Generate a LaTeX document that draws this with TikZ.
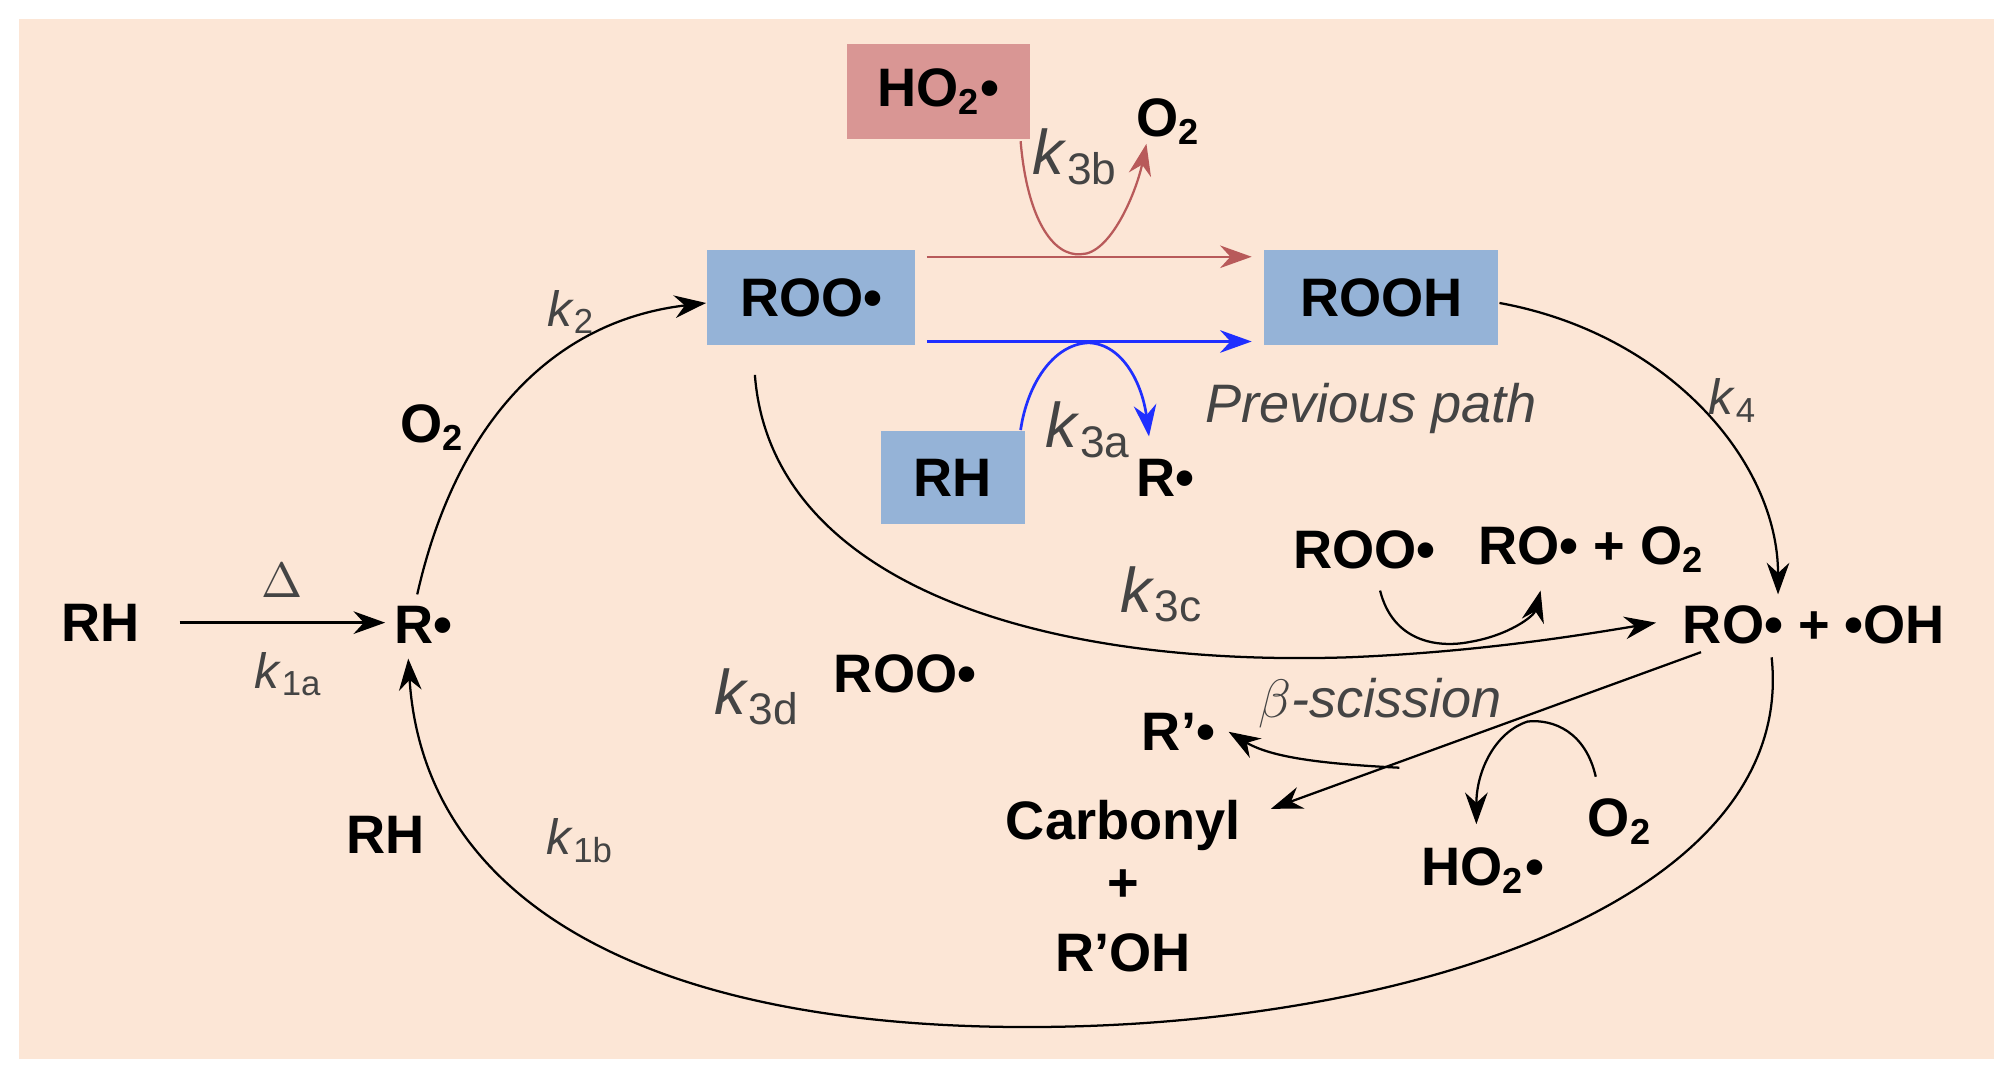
\documentclass[tikz,border=0pt]{standalone}
\usepackage{fontspec}
\setmainfont{Liberation Sans}
\usetikzlibrary{arrows.meta}
\definecolor{bg}{HTML}{FCE6D6}
\definecolor{bluebox}{HTML}{95B3D7}
\definecolor{pinkbox}{HTML}{D99694}
\definecolor{redarr}{HTML}{B85A5A}
\definecolor{bluearr}{HTML}{1F2FFF}
\definecolor{graytxt}{HTML}{444444}
\newcommand{\kk}[1]{\textit{k}\textsubscript{#1}}
\begin{document}
\begin{tikzpicture}[x=0.01cm,y=-0.01cm,
  t/.style={font=\bfseries\fontsize{12}{14}\selectfont,inner sep=1pt},
  k/.style={font=\fontsize{14}{16}\selectfont,text=graytxt,inner sep=1pt},
  ks/.style={font=\fontsize{11}{13}\selectfont,text=graytxt,inner sep=1pt},
  box/.style={t,minimum height=0.74cm},
  arr/.style={-{Stealth[length=7pt,width=5pt]},line width=0.5pt},
  darr/.style={-{Stealth[length=7pt,width=5pt]},line width=0.6pt}]
\useasboundingbox (0,0) rectangle (1568,842);
\fill[bg] (15,15) rectangle (1553,825);
% boxes
\node[box,fill=pinkbox,minimum width=1.43cm] (ho2b) at (731,71) {HO$_\mathbf{2}$•};
\node[box,fill=bluebox,minimum width=1.62cm] (roo) at (632,232) {ROO•};
\node[box,fill=bluebox,minimum width=1.82cm] (rooh) at (1076,232) {ROOH};
\node[box,fill=bluebox,minimum width=1.12cm,minimum height=0.72cm] (rhb) at (742,372) {RH};
% texts
\node[t] (o2a) at (910,95) {O$_\mathbf{2}$};
\node[t] (ra) at (908,372) {R•};
\node[k] (k3b) at (838,122) {\kk{3b}};
\node[k] (k3a) at (848,335) {\kk{3a}};
\node[k,font=\fontsize{12}{14}\selectfont\itshape] (pp) at (1068,318) {Previous path};
\node[t] (rh1) at (78,485) {RH};
\node[t] (r) at (330,487) {R•};
\node[font=\fontsize{11}{13}\selectfont,text=graytxt] (delta) at (220,452) {$\Delta$};
\node[ks] (k1a) at (225,525) {\kk{1a}};
\node[t] (o2b) at (337,333) {O$_\mathbf{2}$};
\node[ks] (k2) at (445,243) {\kk{2}};
\node[ks] (k4) at (1350,312) {\kk{4}};
\node[t] (ro) at (1413,487) {RO• + •OH};
\node[k] (k3c) at (905,463) {\kk{3c}};
\node[t] (roo2) at (1063,428) {ROO•};
\node[t] (roo2p) at (1240,428) {RO• + O$_\mathbf{2}$};
\node[k] (k3d) at (590,543) {\kk{3d}};
\node[t] (roo3) at (705,525) {ROO•};
\node[k,font=\fontsize{12}{14}\selectfont\itshape] (beta) at (1075,548) {$\beta$-scission};
\node[t] (rp) at (918,570) {R’•};
\node[t] (carb) at (875,643) {Carbonyl};
\node[t] (plus) at (875,690) {+};
\node[t] (roh) at (875,742) {R’OH};
\node[t] (o2c) at (1262,640) {O$_\mathbf{2}$};
\node[t] (ho2c) at (1155,678) {HO$_\mathbf{2}$•};
\node[t] (rh2) at (300,650) {RH};
\node[ks] (k1b) at (452,655) {\kk{1b}};
% coordinates
\coordinate (a1) at (722,200); \coordinate (a2) at (975,200);
\coordinate (b1) at (722,266); \coordinate (b2) at (975,266);
\coordinate (rc1) at (795,110); \coordinate (rc2) at (893,112);
\coordinate (bc1) at (795,335); \coordinate (bc2) at (895,340);
\coordinate (c1) at (588,292); \coordinate (c2) at (1290,485);
\coordinate (s1) at (1075,460); \coordinate (s2) at (1200,460);
\coordinate (l1) at (1325,508); \coordinate (l2) at (990,630);
\coordinate (m1) at (1090,598); \coordinate (m2) at (957,570);
\coordinate (n1) at (1243,605); \coordinate (n2) at (1150,642);
\coordinate (g1) at (1380,512); \coordinate (g2) at (318,513);
% arrows
\draw[arr,redarr] (a1) -- (a2);
\draw[darr,bluearr] (b1) -- (b2);
\draw[arr,redarr] (rc1) .. controls (800,170) and (820,200) .. (842,198) .. controls (865,198) and (885,150) .. (rc2);
\draw[darr,bluearr] (bc1) .. controls (800,300) and (820,268) .. (848,267) .. controls (875,268) and (890,300) .. (bc2);
\draw[darr] (140,485) -- (300,485);
\draw[arr] (325,463) .. controls (355,330) and (430,250) .. (550,236);
\draw[arr] (1168,236) .. controls (1300,260) and (1385,360) .. (1385,463);
\draw[arr] (c1) .. controls (600,450) and (800,520) .. (1050,512) .. controls (1150,508) and (1230,495) .. (c2);
\draw[arr] (s1) .. controls (1085,500) and (1120,505) .. (1145,500) .. controls (1175,495) and (1195,480) .. (s2);
\draw[arr] (l1) -- (l2);
\draw[arr] (m1) .. controls (1030,595) and (990,590) .. (m2);
\draw[arr] (n1) .. controls (1235,570) and (1210,560) .. (1190,562) .. controls (1165,570) and (1150,600) .. (n2);
\draw[arr] (g1) .. controls (1400,700) and (1100,800) .. (800,800) .. controls (500,800) and (330,700) .. (g2);
\end{tikzpicture}
\end{document}
